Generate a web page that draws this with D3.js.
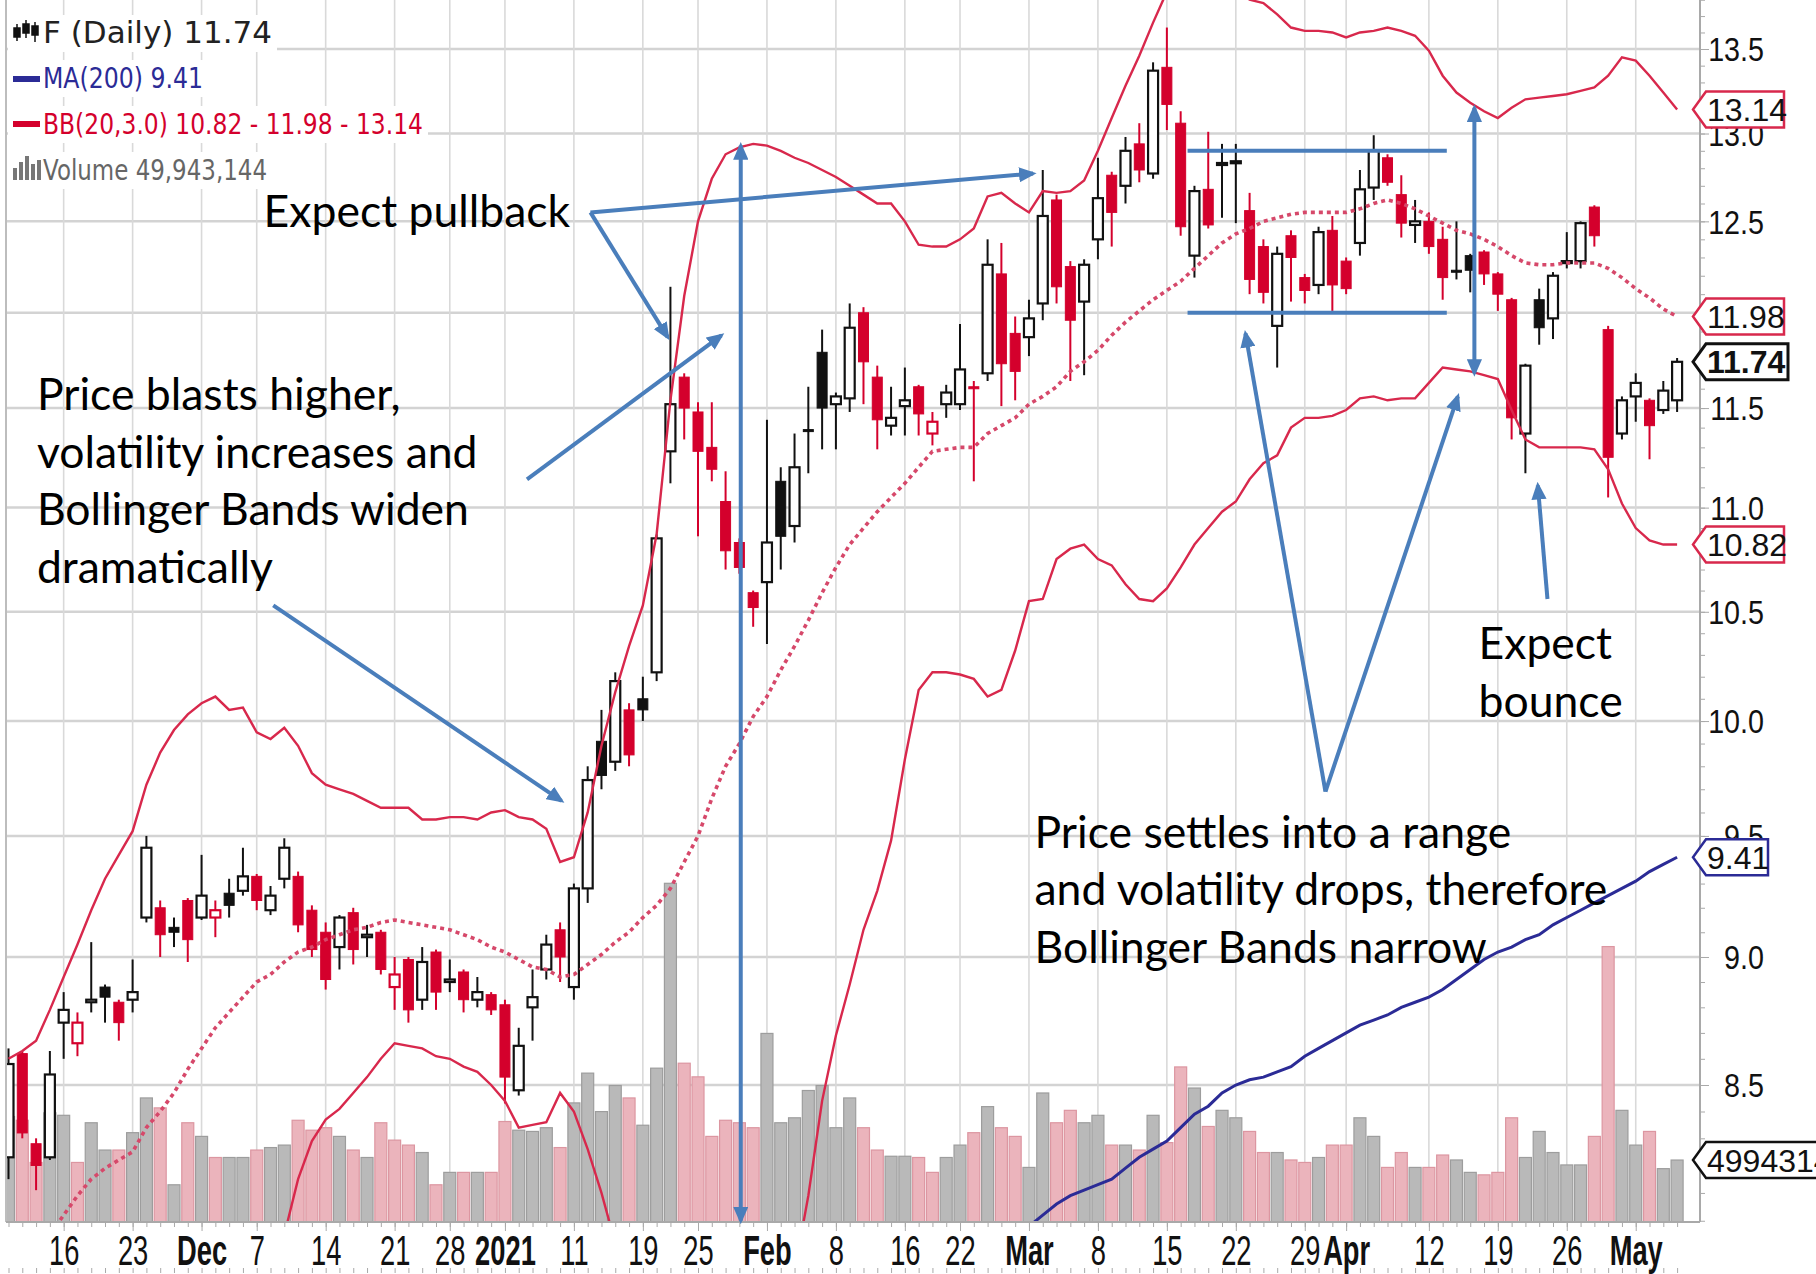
<!DOCTYPE html>
<html lang="en">
<head>
<meta charset="UTF-8">
<title>F daily - Bollinger Bands</title>
<script src="https://d3js.org/d3.v7.min.js"></script>
<style>
body { margin: 0; background: #fff; }
svg { display: block; background: #fff; }
.note { font-family: Lato, 'Open Sans', sans-serif; font-size: 44.5px; fill: #000; }
.axis text { font-family: 'Liberation Sans', Arial, sans-serif; fill: #111; }
.axis path, .axis line { stroke: #a9a9a9; }
.legend text { font-family: 'DejaVu Sans', Verdana, sans-serif; }
.vbox text { font-family: 'Liberation Sans', Arial, sans-serif; font-size: 32px; fill: #111; }
</style>
</head>
<body>
<svg id="chart" width="1816" height="1274"></svg>
<script>
// trading days on the chart
var dates = [
  "2020-11-10","2020-11-11","2020-11-12","2020-11-13","2020-11-16","2020-11-17","2020-11-18","2020-11-19","2020-11-20",
  "2020-11-23","2020-11-24","2020-11-25","2020-11-27","2020-11-30",
  "2020-12-01","2020-12-02","2020-12-03","2020-12-04","2020-12-07","2020-12-08","2020-12-09","2020-12-10","2020-12-11",
  "2020-12-14","2020-12-15","2020-12-16","2020-12-17","2020-12-18","2020-12-21","2020-12-22","2020-12-23","2020-12-24",
  "2020-12-28","2020-12-29","2020-12-30","2020-12-31",
  "2021-01-04","2021-01-05","2021-01-06","2021-01-07","2021-01-08","2021-01-11","2021-01-12","2021-01-13","2021-01-14",
  "2021-01-15","2021-01-19","2021-01-20","2021-01-21","2021-01-22","2021-01-25","2021-01-26","2021-01-27","2021-01-28","2021-01-29",
  "2021-02-01","2021-02-02","2021-02-03","2021-02-04","2021-02-05","2021-02-08","2021-02-09","2021-02-10","2021-02-11","2021-02-12",
  "2021-02-16","2021-02-17","2021-02-18","2021-02-19","2021-02-22","2021-02-23","2021-02-24","2021-02-25","2021-02-26",
  "2021-03-01","2021-03-02","2021-03-03","2021-03-04","2021-03-05","2021-03-08","2021-03-09","2021-03-10","2021-03-11","2021-03-12",
  "2021-03-15","2021-03-16","2021-03-17","2021-03-18","2021-03-19","2021-03-22","2021-03-23","2021-03-24","2021-03-25","2021-03-26",
  "2021-03-29","2021-03-30","2021-03-31",
  "2021-04-01","2021-04-05","2021-04-06","2021-04-07","2021-04-08","2021-04-09","2021-04-12","2021-04-13","2021-04-14","2021-04-15",
  "2021-04-16","2021-04-19","2021-04-20","2021-04-21","2021-04-22","2021-04-23","2021-04-26","2021-04-27","2021-04-28","2021-04-29",
  "2021-04-30","2021-05-03","2021-05-04","2021-05-05","2021-05-06"
];

var opens = [8.23,8.62,8.28,8.23,
  8.74,8.66,8.82,8.88,8.82,8.83,9.16,9.20,9.12,9.23,
  9.16,9.16,9.26,9.27,9.33,9.19,9.32,9.33,9.19,9.10,
  9.04,9.18,9.08,9.10,8.88,8.99,8.83,9.02,8.90,8.94,
  8.83,8.85,8.81,8.48,8.80,8.95,9.11,8.88,9.28,9.91,
  9.82,10.05,10.10,10.22,11.28,11.66,11.48,11.30,11.03,10.83,
  10.59,10.64,11.13,10.91,11.39,11.79,11.52,11.55,12.00,11.66,
  11.41,11.51,11.61,11.37,11.52,11.52,11.61,11.68,12.21,11.89,
  11.87,12.05,12.62,12.25,12.06,12.40,12.76,12.70,12.94,12.77,
  13.39,13.06,12.31,12.68,12.82,12.83,12.56,12.36,11.93,12.42,
  12.19,12.15,12.45,12.28,12.38,12.69,12.86,12.65,12.48,12.50,
  12.40,12.23,12.31,12.33,12.21,12.07,11.37,12.07,11.97,12.27,
  12.28,12.58,11.91,11.37,11.56,11.54,11.49,11.54];

var highs = [8.64,8.63,8.30,8.63,
  8.86,8.78,9.06,8.89,8.83,8.99,9.50,9.23,9.16,9.24,
  9.42,9.23,9.32,9.45,9.34,9.29,9.49,9.35,9.21,9.14,
  9.17,9.20,9.13,9.11,9.00,9.00,9.04,9.03,8.99,8.95,
  8.92,8.86,8.83,8.72,8.95,9.09,9.14,9.30,9.80,10.05,
  10.22,10.08,10.20,10.87,12.14,11.68,11.53,11.53,11.18,10.85,
  10.60,11.44,11.20,11.37,11.61,11.91,11.58,12.05,12.03,11.72,
  11.61,11.71,11.62,11.48,11.62,11.94,11.64,12.40,12.38,11.98,
  12.07,12.79,12.65,12.28,12.29,12.86,12.78,12.98,13.06,13.42,
  13.63,13.13,12.70,13.01,12.94,12.94,12.66,12.40,12.36,12.45,
  12.21,12.47,12.53,12.30,12.79,12.99,12.88,12.76,12.62,12.55,
  12.47,12.50,12.32,12.34,12.22,12.08,11.73,12.13,12.22,12.44,
  12.50,12.59,11.93,11.56,11.68,11.55,11.64,11.76];

var lows = [8.15,8.30,8.11,8.22,
  8.60,8.61,8.78,8.74,8.67,8.78,9.14,9.00,9.04,8.98,
  9.15,9.08,9.16,9.25,9.19,9.17,9.28,9.10,9.00,8.87,
  8.95,8.97,9.00,8.93,8.79,8.74,8.79,8.79,8.86,8.78,
  8.80,8.77,8.43,8.46,8.67,8.91,8.90,8.83,9.22,9.70,
  9.78,9.80,10.00,10.18,11.12,11.34,10.86,11.13,10.70,10.68,
  10.43,10.35,10.70,10.83,11.17,11.29,11.29,11.48,11.52,11.29,
  11.36,11.36,11.36,11.31,11.45,11.49,11.13,11.64,11.51,11.54,
  11.77,11.96,12.05,11.64,11.67,12.29,12.36,12.60,12.72,12.74,
  13.02,12.42,12.19,12.46,12.52,12.49,12.10,12.05,11.71,12.06,
  12.05,12.10,12.01,12.10,12.31,12.62,12.70,12.41,12.38,12.32,
  12.07,12.18,12.11,12.15,12.01,11.34,11.17,11.83,11.86,12.24,
  12.24,12.36,11.05,11.34,11.43,11.24,11.47,11.48];

var closes = [8.58,8.32,8.20,8.54,
  8.79,8.74,8.83,8.84,8.74,8.86,9.45,9.09,9.10,9.07,
  9.25,9.19,9.21,9.33,9.23,9.25,9.45,9.13,9.03,8.91,
  9.16,9.03,9.09,8.95,8.93,8.79,8.98,8.86,8.91,8.83,
  8.86,8.79,8.53,8.65,8.84,9.05,9.00,9.28,9.74,9.76,
  10.18,9.85,10.05,10.85,11.52,11.50,11.28,11.19,10.79,10.71,
  10.52,10.83,10.86,11.20,11.38,11.50,11.56,11.92,11.74,11.44,
  11.45,11.54,11.47,11.43,11.58,11.70,11.60,12.26,11.73,11.69,
  11.97,12.53,12.14,11.96,12.26,12.63,12.55,12.90,12.79,13.37,
  13.17,12.47,12.67,12.48,12.83,12.84,12.18,12.11,12.32,12.30,
  12.12,12.44,12.15,12.13,12.68,12.90,12.72,12.49,12.50,12.36,
  12.19,12.22,12.23,12.21,12.10,11.45,11.72,11.92,12.20,12.28,
  12.49,12.42,11.25,11.54,11.63,11.41,11.59,11.74];

// volume, millions of shares
var volumes = [85,82,48,88,
  86,48,80,58,58,72,100,92,30,80,
  69,52,52,52,58,60,62,82,74,76,
  69,58,52,80,66,62,56,30,40,40,
  40,40,81,74,73,76,60,96,120,89,
  110,100,78,124,273,128,117,69,82,80,
  76,152,80,84,106,110,76,100,76,58,
  53,53,52,40,52,62,72,93,76,69,
  44,104,80,90,80,86,62,62,58,86,
  64,125,108,77,90,84,73,56,56,50,
  48,52,62,62,84,69,44,56,44,44,
  54,50,40,38,40,84,52,73,56,46,
  46,69,222,90,62,73,43,49.943144];

// Bollinger Bands (20, 3.0)
var bbUpper = [8.60,8.63,8.67,8.79,
  8.92,9.05,9.19,9.32,9.42,9.52,9.72,9.86,9.96,10.03,
  10.08,10.11,10.05,10.06,9.95,9.92,9.97,9.89,9.77,9.72,
  9.70,9.68,9.65,9.62,9.62,9.62,9.57,9.57,9.58,9.58,
  9.57,9.60,9.61,9.58,9.57,9.53,9.39,9.41,9.60,9.89,
  10.13,10.34,10.53,10.87,11.54,12.09,12.50,12.74,12.88,12.92,
  12.94,12.93,12.90,12.86,12.83,12.79,12.75,12.70,12.65,12.60,
  12.60,12.50,12.37,12.36,12.36,12.40,12.46,12.64,12.66,12.60,
  12.55,12.67,12.66,12.67,12.73,12.90,13.09,13.28,13.46,13.66,
  13.85,13.98,14.05,14.05,13.98,13.88,13.80,13.78,13.71,13.63,
  13.61,13.61,13.60,13.57,13.60,13.61,13.63,13.61,13.58,13.49,
  13.34,13.24,13.18,13.13,13.09,13.15,13.20,13.21,13.22,13.23,
  13.25,13.27,13.34,13.45,13.43,13.34,13.24,13.14];

var bbMiddle = [7.72,7.78,7.85,7.95,
  8.02,8.09,8.15,8.19,8.22,8.25,8.34,8.40,8.47,8.56,
  8.64,8.72,8.78,8.84,8.90,8.93,8.98,9.02,9.04,9.07,
  9.09,9.11,9.12,9.14,9.15,9.14,9.13,9.12,9.11,9.09,
  9.07,9.04,9.02,8.99,8.96,8.95,8.92,8.93,8.97,9.01,
  9.06,9.10,9.16,9.21,9.28,9.39,9.50,9.66,9.80,9.90,
  10.02,10.11,10.23,10.34,10.46,10.59,10.71,10.82,10.90,10.98,
  11.05,11.12,11.20,11.28,11.29,11.30,11.30,11.37,11.41,11.45,
  11.52,11.56,11.61,11.69,11.74,11.80,11.88,11.95,12.01,12.07,
  12.12,12.17,12.24,12.31,12.38,12.43,12.46,12.50,12.52,12.54,
  12.55,12.55,12.55,12.55,12.57,12.60,12.62,12.60,12.57,12.53,
  12.49,12.45,12.43,12.40,12.36,12.31,12.27,12.26,12.26,12.27,
  12.27,12.27,12.24,12.19,12.13,12.08,12.02,11.98];

var bbLower = [6.84,6.93,7.03,7.11,
  7.12,7.13,7.11,7.06,7.02,6.98,6.96,6.94,6.98,7.09,
  7.20,7.33,7.51,7.62,7.85,7.94,7.95,8.15,8.29,8.37,
  8.41,8.47,8.53,8.60,8.66,8.65,8.64,8.61,8.60,8.57,
  8.55,8.50,8.44,8.34,8.35,8.36,8.47,8.40,8.26,8.10,
  7.92,7.86,7.79,7.55,7.02,6.69,6.50,6.58,6.72,6.88,
  7.10,7.29,7.56,7.82,8.09,8.44,8.69,8.89,9.11,9.27,
  9.48,9.83,10.14,10.22,10.22,10.21,10.19,10.11,10.14,10.32,
  10.55,10.56,10.75,10.80,10.82,10.75,10.72,10.63,10.56,10.55,
  10.61,10.71,10.82,10.90,10.98,11.03,11.14,11.22,11.26,11.40,
  11.45,11.45,11.46,11.49,11.55,11.56,11.54,11.55,11.55,11.63,
  11.71,11.70,11.69,11.67,11.65,11.49,11.34,11.30,11.30,11.30,
  11.30,11.29,11.19,11.02,10.90,10.84,10.82,10.82];

// 200-day moving average, only where it shows on the chart
var ma200Start = "2021-03-01";
var ma200 = [7.98,8.02,8.06,8.09,8.11,8.13,8.15,8.19,8.23,8.26,
  8.29,8.34,8.39,8.42,8.47,8.50,8.52,8.53,8.55,8.57,
  8.61,8.64,8.67,8.70,8.73,8.75,8.77,8.80,8.82,8.84,
  8.87,8.91,8.95,8.99,9.02,9.04,9.07,9.09,9.13,9.16,
  9.19,9.22,9.25,9.28,9.31,9.35,9.38,9.41];

var tickDates = ["2020-11-16","2020-11-23","2020-12-01","2020-12-07","2020-12-14","2020-12-21","2020-12-28",
  "2021-01-04","2021-01-11","2021-01-19","2021-01-25","2021-02-01","2021-02-08","2021-02-16","2021-02-22",
  "2021-03-01","2021-03-08","2021-03-15","2021-03-22","2021-03-29","2021-04-01","2021-04-12","2021-04-19",
  "2021-04-26","2021-05-03"];
var tickLabels = ["16","23","Dec","7","14","21","28","2021","11","19","25","Feb","8","16","22",
  "Mar","8","15","22","29","Apr","12","19","26","May"];
var boldLabels = ["Dec","2021","Feb","Mar","Apr","May"];
var priceTicks = [8.5,9.0,9.5,10.0,10.5,11.0,11.5,12.0,12.5,13.0,13.5];

// ---- layout ----
var plot = {left: 6, right: 1700, top: 0, bottom: 1222};
var red = "#d4002c", bandRed = "#d8284c", maBlue = "#2b2b96", noteBlue = "#4a7ebb";

var x = d3.scalePoint().domain(dates).range([8.5, 1677.1]);
var xi = d3.scaleLinear().domain([0, dates.length - 1]).range(x.range());
var y = d3.scaleLog().domain([8.5, 13.5]).range([1085, 49]);
var yVol = d3.scaleLinear().domain([0, 985]).range([plot.bottom, plot.top]);

var candles = dates.map(function(d, i) {
  return {
    date: d, o: opens[i], h: highs[i], l: lows[i], c: closes[i], v: volumes[i],
    up: i === 0 ? true : closes[i] >= closes[i - 1],
    hollow: closes[i] > opens[i]
  };
});
function col(d) { return d.up ? "#111" : red; }

var svg = d3.select("#chart");
var defs = svg.append("defs");
defs.append("clipPath").attr("id", "plotClip").append("rect")
  .attr("x", plot.left).attr("y", plot.top)
  .attr("width", plot.right - plot.left).attr("height", plot.bottom - plot.top);
defs.append("marker").attr("id", "head")
  .attr("viewBox", "0 0 10 10").attr("preserveAspectRatio", "none")
  .attr("refX", 8).attr("refY", 5)
  .attr("markerWidth", 4.4).attr("markerHeight", 3.8)
  .attr("orient", "auto-start-reverse")
  .append("path").attr("d", "M0,0L10,5L0,10z").attr("fill", noteBlue);

// grid
var grid = svg.append("g").attr("clip-path", "url(#plotClip)");
grid.selectAll("line.hg").data(priceTicks).join("line").attr("class", "hg")
  .attr("x1", plot.left).attr("x2", plot.right)
  .attr("y1", function(d) { return y(d); }).attr("y2", function(d) { return y(d); })
  .attr("stroke", "#d3d3d3").attr("stroke-width", 2.5);
grid.selectAll("line.vg").data(tickDates).join("line").attr("class", "vg")
  .attr("x1", function(d) { return x(d); }).attr("x2", function(d) { return x(d); })
  .attr("y1", plot.top).attr("y2", plot.bottom)
  .attr("stroke", "#d9d9d9").attr("stroke-width", 1.6);

// volume
var vol = svg.append("g").attr("clip-path", "url(#plotClip)");
vol.selectAll("rect").data(candles).join("rect")
  .attr("x", function(d) { return x(d.date) - 6; })
  .attr("width", 12)
  .attr("y", function(d) { return yVol(d.v); })
  .attr("height", function(d) { return plot.bottom - yVol(d.v); })
  .attr("fill", function(d) { return d.up ? "#b9b9b9" : "#ebb4bc"; })
  .attr("stroke", function(d) { return d.up ? "#9d9d9d" : "#dc96a1"; })
  .attr("stroke-width", 1.2);

// candles
var cg = svg.append("g").attr("clip-path", "url(#plotClip)");
var cs = cg.selectAll("g").data(candles).join("g")
  .attr("transform", function(d) { return "translate(" + x(d.date) + ",0)"; });
cs.append("line")
  .attr("y1", function(d) { return y(d.h); }).attr("y2", function(d) { return y(d.l); })
  .attr("stroke", col).attr("stroke-width", 2);
cs.append("rect")
  .attr("x", -5).attr("width", 10)
  .attr("y", function(d) { return y(Math.max(d.o, d.c)); })
  .attr("height", function(d) { return Math.max(2, Math.abs(y(d.o) - y(d.c))); })
  .attr("fill", function(d) { return d.hollow ? "#fff" : col(d); })
  .attr("stroke", col)
  .attr("stroke-width", function(d) { return d.hollow ? 2.2 : 1; });

// overlays
var ov = svg.append("g").attr("clip-path", "url(#plotClip)");
function seriesLine(values, offset) {
  return d3.line()
    .x(function(d, i) { return x(dates[i + offset]); })
    .y(function(d) { return y(d); })(values);
}
ov.append("path").attr("d", seriesLine(bbUpper, 0)).attr("fill", "none")
  .attr("stroke", bandRed).attr("stroke-width", 2.4);
ov.append("path").attr("d", seriesLine(bbLower, 0)).attr("fill", "none")
  .attr("stroke", bandRed).attr("stroke-width", 2.4);
ov.append("path").attr("d", seriesLine(bbMiddle, 0)).attr("fill", "none")
  .attr("stroke", "#d6486a").attr("stroke-width", 3.6).attr("stroke-dasharray", "4,4");
ov.append("path").attr("d", seriesLine(ma200, dates.indexOf(ma200Start))).attr("fill", "none")
  .attr("stroke", maBlue).attr("stroke-width", 3);

// frame + axes
svg.append("line").attr("x1", plot.left).attr("x2", plot.left).attr("y1", plot.top).attr("y2", plot.bottom)
  .attr("stroke", "#bdbdbd").attr("stroke-width", 2);

var yMinor = d3.range(80, 139).map(function(v) { return v / 10; });
svg.append("g").attr("class", "axis").attr("transform", "translate(" + plot.right + ",0)")
  .call(d3.axisRight(y).tickValues(yMinor).tickSize(5).tickFormat(""))
  .call(function(g) { g.select(".domain").attr("stroke-width", 2).attr("d", "M0," + plot.top + "V" + plot.bottom); });
var yAx = svg.append("g").attr("class", "axis").attr("transform", "translate(" + plot.right + ",0)")
  .call(d3.axisRight(y).tickValues(priceTicks).tickSize(9).tickFormat(d3.format(".1f")));
yAx.select(".domain").remove();
yAx.selectAll("text")
  .attr("font-size", 33).attr("text-anchor", "end")
  .attr("x", 0).attr("dy", "0.36em")
  .attr("transform", "translate(64,0) scale(0.87,1)");

svg.append("g").attr("class", "axis").attr("transform", "translate(0," + plot.bottom + ")")
  .call(d3.axisBottom(x).tickValues(dates).tickSize(5).tickFormat(""))
  .call(function(g) { g.select(".domain").attr("stroke-width", 2).attr("d", "M" + plot.left + ",0H" + plot.right); });
svg.append("g").attr("class", "axis").attr("transform", "translate(0,1268)")
  .call(d3.axisBottom(x).tickValues(dates).tickSize(5).tickFormat(""))
  .call(function(g) { g.select(".domain").remove(); });
var xAx = svg.append("g").attr("class", "axis").attr("transform", "translate(0," + plot.bottom + ")")
  .call(d3.axisBottom(x).tickValues(tickDates).tickSize(9)
    .tickFormat(function(d) { return tickLabels[tickDates.indexOf(d)]; }));
xAx.select(".domain").remove();
xAx.selectAll("text")
  .attr("font-size", 42).attr("y", 0).attr("dy", 0)
  .attr("font-weight", function(d) { return boldLabels.indexOf(tickLabels[tickDates.indexOf(d)]) >= 0 ? "bold" : "normal"; })
  .attr("transform", "translate(0,43) scale(0.65,1)");

// legend
var last = dates.length - 1;
var legend = svg.append("g").attr("class", "legend");
var legendRows = [
  {text: "F (Daily) " + closes[last].toFixed(2), color: "#222", base: 43, size: 31, len: 229},
  {text: "MA(200) " + ma200[ma200.length - 1].toFixed(2), color: maBlue, base: 88, size: 28, len: 160},
  {text: "BB(20,3.0) " + bbLower[last].toFixed(2) + " - " + bbMiddle[last].toFixed(2) + " - " + bbUpper[last].toFixed(2),
    color: red, base: 134, size: 28, len: 380},
  {text: "Volume " + d3.format(",")(Math.round(volumes[last] * 1e6)), color: "#666", base: 180, size: 28, len: 224}
];
legend.selectAll("rect.bg").data(legendRows).join("rect").attr("class", "bg")
  .attr("x", 8).attr("width", function(d) { return d.len + 40; })
  .attr("y", function(d) { return d.base - 28; }).attr("height", 37).attr("fill", "#fff");
legend.selectAll("text").data(legendRows).join("text")
  .attr("x", 43).attr("y", function(d) { return d.base; })
  .attr("font-size", function(d) { return d.size; })
  .attr("textLength", function(d) { return d.len; }).attr("lengthAdjust", "spacingAndGlyphs")
  .attr("fill", function(d) { return d.color; })
  .text(function(d) { return d.text; });
// legend icons
var icon = legend.append("g").attr("fill", "#111").attr("stroke", "#111").attr("stroke-width", 1.5);
[[17, 24, 41, 28, 37], [26, 20, 38, 24, 33], [35, 22, 42, 26, 35]].forEach(function(c) {
  icon.append("line").attr("x1", c[0]).attr("x2", c[0]).attr("y1", c[1]).attr("y2", c[2]);
  icon.append("rect").attr("x", c[0] - 3).attr("width", 6).attr("y", c[3]).attr("height", c[4] - c[3]);
});
legend.append("rect").attr("x", 13).attr("y", 76).attr("width", 27).attr("height", 6).attr("fill", maBlue);
legend.append("rect").attr("x", 13).attr("y", 121).attr("width", 27).attr("height", 6).attr("fill", red);
[[13, 168], [19, 162], [25, 156], [31, 164], [37, 160]].forEach(function(b) {
  legend.append("rect").attr("x", b[0]).attr("y", b[1]).attr("width", 4).attr("height", 180 - b[1]).attr("fill", "#777");
});

// value boxes on the right axis
var boxes = [
  {text: bbUpper[last].toFixed(2), v: y(bbUpper[last]), stroke: bandRed, w: 91, bold: false},
  {text: bbMiddle[last].toFixed(2), v: y(bbMiddle[last]), stroke: bandRed, w: 91, bold: false},
  {text: closes[last].toFixed(2), v: y(closes[last]), stroke: "#111", w: 95, bold: true},
  {text: bbLower[last].toFixed(2), v: y(bbLower[last]), stroke: bandRed, w: 91, bold: false},
  {text: ma200[ma200.length - 1].toFixed(2), v: y(ma200[ma200.length - 1]), stroke: maBlue, w: 75, bold: false},
  {text: String(Math.round(volumes[last] * 1e6)), v: yVol(volumes[last]), stroke: "#111", w: 140, bold: false}
];
var vb = svg.append("g").attr("class", "vbox").selectAll("g").data(boxes).join("g")
  .attr("transform", function(d) { return "translate(1693," + d.v + ")"; });
vb.append("path")
  .attr("d", function(d) { return "M0,0L13,-18H" + d.w + "V18H13Z"; })
  .attr("fill", "#fff").attr("stroke", function(d) { return d.stroke; })
  .attr("stroke-width", function(d) { return d.bold ? 3 : 2.5; });
vb.append("text").attr("x", 14).attr("dy", "0.36em")
  .attr("font-weight", function(d) { return d.bold ? "bold" : "normal"; })
  .text(function(d) { return d.text; });

// annotations (positions in trading-day index / price)
var arrows = [
  {a: [42.2, 12.55], b: [47.8, 11.87], heads: "end"},
  {a: [42.2, 12.55], b: [74.3, 12.77], heads: "end"},
  {a: [37.6, 11.14], b: [51.7, 11.88], heads: "end"},
  {a: [19.2, 10.53], b: [40.1, 9.65], heads: "end"},
  {a: [53.1, 12.93], b: [53.1, 8.0], heads: "both"},
  {a: [85.5, 12.90], b: [104.3, 12.90], heads: "none"},
  {a: [85.5, 12.00], b: [104.3, 12.00], heads: "none"},
  {a: [106.3, 13.15], b: [106.3, 11.68], heads: "both"},
  {a: [95.5, 9.69], b: [89.7, 11.89], heads: "end"},
  {a: [95.5, 9.69], b: [105.1, 11.56], heads: "end"},
  {a: [111.6, 10.56], b: [110.9, 11.11], heads: "end"}
];
var notes = [
  {i: 18.5, p: 12.47, lines: ["Expect pullback"]},
  {i: 2.06, p: 11.49, lines: ["Price blasts higher,", "volatility increases and", "Bollinger Bands widen", "dramatically"]},
  {i: 74.4, p: 9.45, lines: ["Price settles into a range", "and volatility drops, therefore", "Bollinger Bands narrow"]},
  {i: 106.6, p: 10.28, lines: ["Expect", "bounce"]}
];
var ann = svg.append("g");
ann.selectAll("line").data(arrows).join("line")
  .attr("x1", function(d) { return xi(d.a[0]); }).attr("y1", function(d) { return y(d.a[1]); })
  .attr("x2", function(d) { return xi(d.b[0]); }).attr("y2", function(d) { return y(d.b[1]); })
  .attr("stroke", noteBlue).attr("stroke-width", 4)
  .attr("marker-end", function(d) { return d.heads === "none" ? null : "url(#head)"; })
  .attr("marker-start", function(d) { return d.heads === "both" ? "url(#head)" : null; });
var nt = ann.selectAll("text").data(notes).join("text").attr("class", "note")
  .attr("x", function(d) { return xi(d.i); }).attr("y", function(d) { return y(d.p); });
nt.selectAll("tspan").data(function(d) { return d.lines.map(function(l, k) { return {l: l, k: k, x: xi(d.i)}; }); })
  .join("tspan").attr("x", function(t) { return t.x; }).attr("dy", function(t) { return t.k ? 57.5 : 0; })
  .text(function(t) { return t.l; });
</script>
</body>
</html>
